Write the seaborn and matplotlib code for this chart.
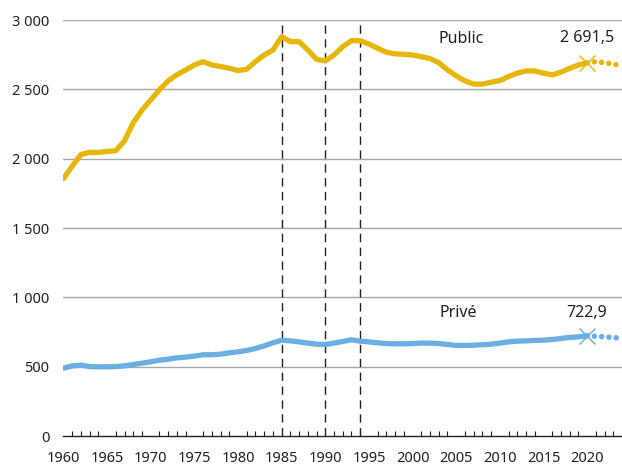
import matplotlib
matplotlib.use("Agg")
import matplotlib.pyplot as plt
import seaborn as sns
import pandas as pd
import numpy as np
from matplotlib.ticker import MultipleLocator, FuncFormatter

years = list(range(1960, 2021))
public = [1857, 1946, 2030, 2046, 2046, 2053, 2058, 2130, 2260, 2350,
          2425, 2497, 2562, 2605, 2640, 2676, 2700, 2676, 2665, 2652,
          2636, 2645, 2700, 2748, 2784, 2880, 2844, 2844, 2784, 2717,
          2705, 2748, 2808, 2851, 2851, 2827, 2796, 2768, 2756, 2753,
          2748, 2736, 2722, 2693, 2640, 2597, 2562, 2538, 2538, 2552,
          2564, 2593, 2617, 2633, 2633, 2617, 2605, 2624, 2652, 2676,
          2691.5]
prive = [490, 507, 512, 502, 500, 500, 502, 507, 517, 526,
         536, 548, 555, 565, 570, 577, 587, 587, 591, 601,
         608, 618, 632, 651, 673, 692, 687, 680, 671, 663,
         661, 671, 683, 695, 685, 680, 673, 668, 666, 666,
         668, 671, 671, 668, 661, 654, 654, 656, 659, 663,
         671, 680, 685, 687, 690, 692, 697, 704, 712, 716,
         722.9]
proj_years = [2020, 2021, 2022, 2023, 2024]
public_proj = [2691.5, 2700, 2693, 2683, 2670]
prive_proj = [722.9, 720, 716, 711, 705]
vlines = [1985, 1990, 1994]

gold = "#E6B70A"
blue = "#6AAEE3"
txt = "#222222"

sns.set_theme(style="white")
plt.rcParams['font.family'] = ['Noto Sans', 'DejaVu Sans']
fs = 10.5
fs_ann = 11.5

df = pd.DataFrame({"year": years, "Public": public, "Privé": prive})
dfp = pd.DataFrame({"year": proj_years, "Public": public_proj, "Privé": prive_proj})

fig = plt.figure(figsize=(6.22, 4.66), dpi=100)
ax = fig.add_axes([0.102, 0.064, 0.898, 0.893])

for y in range(500, 3001, 500):
    ax.axhline(y, color="#A8A8A8", lw=1.0, zorder=0)

for v in vlines:
    ax.axvline(v, color=txt, lw=1.0, ls=(0, (6, 4)), zorder=1)

sns.lineplot(data=df, x="year", y="Public", color=gold, lw=3.8, ax=ax,
             solid_capstyle="round", solid_joinstyle="round", zorder=3)
sns.lineplot(data=df, x="year", y="Privé", color=blue, lw=3.8, ax=ax,
             solid_capstyle="round", solid_joinstyle="round", zorder=3)
sns.lineplot(data=dfp, x="year", y="Public", color=gold, lw=4, ax=ax,
             ls=(0, (0.01, 1.3)), dash_capstyle="round", zorder=3)
sns.lineplot(data=dfp, x="year", y="Privé", color=blue, lw=4, ax=ax,
             ls=(0, (0.01, 1.3)), dash_capstyle="round", zorder=3)

ax.plot([2020], [public[-1]], marker="x", ms=11.5, mew=1.0, color=gold, zorder=4)
ax.plot([2020], [prive[-1]], marker="x", ms=11.5, mew=1.0, color=blue, zorder=4)

ax.text(2020, 2868, "2 691,5", ha="center", va="center", fontsize=fs_ann, color=txt)
ax.text(2020, 887, "722,9", ha="center", va="center", fontsize=fs_ann, color=txt)
ax.text(2005.6, 2863, "Public", ha="center", va="center", fontsize=fs_ann, color=txt)
ax.text(2005.2, 887, "Privé", ha="center", va="center", fontsize=fs_ann, color=txt)

ax.set_xlim(1960, 2024)
ax.set_ylim(0, 3000)
ax.set_xlabel("")
ax.set_ylabel("")
ax.xaxis.set_minor_locator(MultipleLocator(1))
ax.set_xticks(range(1960, 2021, 5))
ax.yaxis.set_major_locator(MultipleLocator(500))
ax.yaxis.set_major_formatter(FuncFormatter(lambda v, p: f"{int(v):,}".replace(",", " ")))

for s in ["top", "right", "left"]:
    ax.spines[s].set_visible(False)
ax.spines["bottom"].set_color(txt)
ax.spines["bottom"].set_linewidth(1.0)
ax.tick_params(axis="x", which="major", direction="in", length=7, width=1,
               color=txt, labelsize=fs, pad=11, labelcolor=txt)
ax.tick_params(axis="x", which="minor", direction="in", length=3.5, width=0.8,
               color=txt, bottom=True)
ax.tick_params(axis="y", length=0, labelsize=fs, pad=10, labelcolor=txt)

fig.savefig("out.png", dpi=100)
